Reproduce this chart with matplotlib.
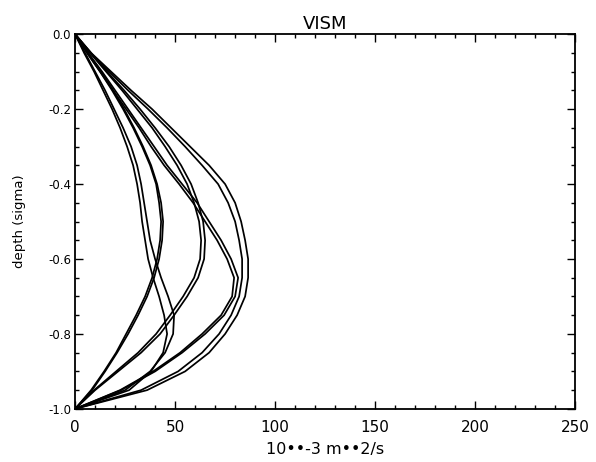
import numpy as np
import matplotlib
matplotlib.use("Agg")
import matplotlib.pyplot as plt
from matplotlib.ticker import MultipleLocator

plt.rcParams['axes.unicode_minus'] = False

# depth levels (sigma) shared by every profile
depth = [0.0, -0.05, -0.1, -0.15, -0.2, -0.25, -0.3, -0.35, -0.4, -0.45, -0.5,
         -0.55, -0.6, -0.65, -0.7, -0.75, -0.8, -0.85, -0.9, -0.95, -1.0]

# vertical viscosity profiles, 10**-3 m**2/s
vism_1a = [0, 8, 18, 28, 38.5, 48, 57.5, 67, 75, 80, 83, 85, 86.5, 86.5, 85, 81, 75, 67, 55, 36, 0]
vism_1b = [0, 7.5, 17, 26.5, 36.5, 46, 55, 63.5, 71.5, 76.5, 80, 82, 83.5, 83.5, 82, 78, 72, 63.5, 51.5, 33, 0]
vism_2a = [0, 6.5, 13.5, 20, 26.5, 33, 39.5, 46, 53.5, 61, 67, 73, 78, 81.5, 80, 74.5, 65, 53.5, 40, 23, 0]
vism_2b = [0, 6, 12.5, 19, 25.5, 32, 38, 44.5, 52, 59, 65, 71, 76, 79.5, 78.5, 73, 63.5, 52.5, 39, 22.5, 0]
vism_3a = [0, 8, 16, 24.5, 32.5, 40, 47, 53, 58, 61.5, 64, 65, 64.5, 61.5, 56, 49.5, 42.5, 33, 21.5, 10, 0]
vism_3b = [0, 7.5, 15.5, 23.5, 31, 38.5, 45, 51, 56, 59.5, 62, 63, 62.5, 59.5, 54, 47.5, 40.5, 31.5, 20.5, 9.5, 0]
vism_4a = [0, 6.5, 13, 19, 24.5, 29.5, 34, 38, 41, 43, 44, 43.5, 42, 39.5, 36, 31.5, 26.5, 21, 15, 8.5, 0]
vism_4b = [0, 6, 12.5, 18.5, 24, 29, 33.5, 37.5, 40.5, 42, 43, 42.5, 41, 38.5, 35, 30.5, 25.5, 20.5, 14.5, 8, 0]
vism_5a = [0, 5, 10, 15, 19.5, 24, 28, 31, 33, 34.5, 36, 37.5, 40, 43, 46.5, 49.5, 49, 45, 37.5, 25, 0]
vism_5b = [0, 4.5, 9.5, 14, 18.5, 22.5, 26, 29, 31, 32.5, 33.5, 35, 36.5, 39, 42, 44.5, 46, 44, 38, 27, 0]

profiles = [vism_1a, vism_1b, vism_2a, vism_2b, vism_3a, vism_3b,
            vism_4a, vism_4b, vism_5a, vism_5b]

xticks = [0, 50, 100, 150, 200, 250]
yticks = [0.0, -0.2, -0.4, -0.6, -0.8, -1.0]
ytick_labels = ["0.0", "-0.2", "-0.4", "-0.6", "-0.8", "-1.0"]


def main():
    fig = plt.figure(figsize=(5.96, 4.62), dpi=100)
    ax = fig.add_axes([0.126, 0.115, 0.839, 0.811])

    for xv in profiles:
        ax.plot(xv, depth, color="black", lw=1.25)

    ax.set_xlim(0, 250)
    ax.set_ylim(-1.0, 0.0)

    ax.set_xticks(xticks)
    ax.set_xticklabels([str(t) for t in xticks], fontsize=11)
    ax.set_yticks(yticks)
    ax.set_yticklabels(ytick_labels, fontsize=8.5)
    ax.xaxis.set_minor_locator(MultipleLocator(10))
    ax.yaxis.set_minor_locator(MultipleLocator(0.05))

    ax.tick_params(which="both", direction="in", top=True, right=True, width=1.0)
    ax.tick_params(which="major", length=6)
    ax.tick_params(which="minor", length=3)
    ax.tick_params(axis="x", pad=8)
    ax.tick_params(axis="y", pad=3)
    for sp in ax.spines.values():
        sp.set_linewidth(1.3)

    ax.set_title("VISM", fontsize=13, pad=4)
    ax.set_xlabel("10\u2022\u2022-3 m\u2022\u20222/s", fontsize=11.5, labelpad=5)
    ax.set_ylabel("depth (sigma)", fontsize=9.5, labelpad=16)

    fig.savefig("out.png", dpi=100)


if __name__ == "__main__":
    main()
